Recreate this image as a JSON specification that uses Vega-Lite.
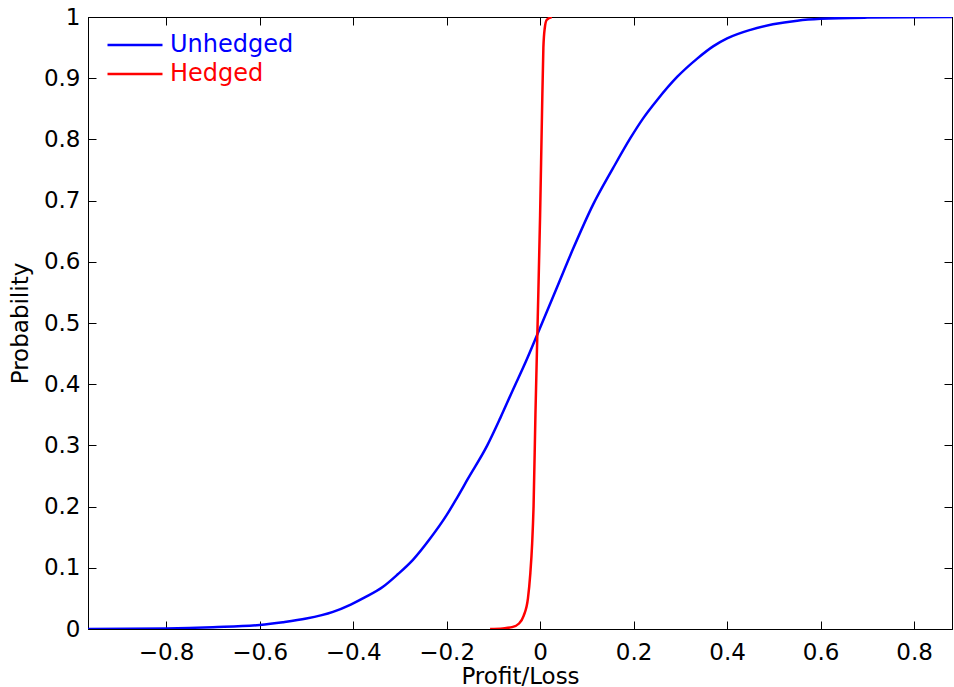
{
  "$schema": "https://vega.github.io/schema/vega-lite/v6.json",
  "autosize": {"type": "none"},
  "padding": {"left": 88, "top": 17, "right": 2, "bottom": 58},
  "width": 864,
  "height": 612,
  "background": "white",
  "config": {
    "font": "DejaVu Sans",
    "view": {"stroke": "black", "strokeWidth": 1},
    "axis": {
      "domainColor": "black",
      "tickColor": "black",
      "labelColor": "black",
      "titleColor": "black",
      "labelFont": "DejaVu Sans",
      "titleFont": "DejaVu Sans",
      "labelFontSize": 23,
      "titleFontSize": 23,
      "titleFontWeight": "normal",
      "grid": false,
      "tickSize": -8,
      "labelFlush": false,
      "labelOverlap": false
    }
  },
  "data": {"values": [
    {"series": "Unhedged", "x": -0.967, "y": 0.0},
    {"series": "Unhedged", "x": -0.8, "y": 0.001},
    {"series": "Unhedged", "x": -0.7, "y": 0.003},
    {"series": "Unhedged", "x": -0.6, "y": 0.0065},
    {"series": "Unhedged", "x": -0.55, "y": 0.011},
    {"series": "Unhedged", "x": -0.5, "y": 0.017},
    {"series": "Unhedged", "x": -0.443, "y": 0.028},
    {"series": "Unhedged", "x": -0.405, "y": 0.04},
    {"series": "Unhedged", "x": -0.374, "y": 0.052},
    {"series": "Unhedged", "x": -0.336, "y": 0.069},
    {"series": "Unhedged", "x": -0.305, "y": 0.089},
    {"series": "Unhedged", "x": -0.272, "y": 0.113},
    {"series": "Unhedged", "x": -0.236, "y": 0.147},
    {"series": "Unhedged", "x": -0.2, "y": 0.186},
    {"series": "Unhedged", "x": -0.178, "y": 0.214},
    {"series": "Unhedged", "x": -0.154, "y": 0.246},
    {"series": "Unhedged", "x": -0.113, "y": 0.3},
    {"series": "Unhedged", "x": -0.085, "y": 0.345},
    {"series": "Unhedged", "x": -0.058, "y": 0.391},
    {"series": "Unhedged", "x": -0.03, "y": 0.438},
    {"series": "Unhedged", "x": -0.004, "y": 0.485},
    {"series": "Unhedged", "x": 0.036, "y": 0.558},
    {"series": "Unhedged", "x": 0.071, "y": 0.622},
    {"series": "Unhedged", "x": 0.113, "y": 0.693},
    {"series": "Unhedged", "x": 0.156, "y": 0.753},
    {"series": "Unhedged", "x": 0.193, "y": 0.802},
    {"series": "Unhedged", "x": 0.22, "y": 0.834},
    {"series": "Unhedged", "x": 0.25, "y": 0.864},
    {"series": "Unhedged", "x": 0.293, "y": 0.902},
    {"series": "Unhedged", "x": 0.336, "y": 0.932},
    {"series": "Unhedged", "x": 0.37, "y": 0.952},
    {"series": "Unhedged", "x": 0.4, "y": 0.965},
    {"series": "Unhedged", "x": 0.45, "y": 0.979},
    {"series": "Unhedged", "x": 0.498, "y": 0.988},
    {"series": "Unhedged", "x": 0.55, "y": 0.994},
    {"series": "Unhedged", "x": 0.6, "y": 0.997},
    {"series": "Unhedged", "x": 0.7, "y": 0.999},
    {"series": "Unhedged", "x": 0.881, "y": 1.0},
    {"series": "Hedged", "x": -0.107, "y": 0.0},
    {"series": "Hedged", "x": -0.08, "y": 0.001},
    {"series": "Hedged", "x": -0.06, "y": 0.003},
    {"series": "Hedged", "x": -0.045, "y": 0.009},
    {"series": "Hedged", "x": -0.035, "y": 0.022},
    {"series": "Hedged", "x": -0.026, "y": 0.05},
    {"series": "Hedged", "x": -0.021, "y": 0.09},
    {"series": "Hedged", "x": -0.017, "y": 0.14},
    {"series": "Hedged", "x": -0.014, "y": 0.2},
    {"series": "Hedged", "x": -0.01, "y": 0.35},
    {"series": "Hedged", "x": -0.005, "y": 0.51},
    {"series": "Hedged", "x": 0.0, "y": 0.676},
    {"series": "Hedged", "x": 0.004, "y": 0.84},
    {"series": "Hedged", "x": 0.007, "y": 0.95},
    {"series": "Hedged", "x": 0.01, "y": 0.982},
    {"series": "Hedged", "x": 0.014, "y": 0.995},
    {"series": "Hedged", "x": 0.025, "y": 1.0}
  ]},
  "resolve": {"axis": {"x": "independent", "y": "independent"}},
  "layer": [
    {
      "mark": {"type": "line", "strokeWidth": 2.5, "clip": true, "interpolate": "monotone"},
      "encoding": {
        "x": {"field": "x", "type": "quantitative",
          "scale": {"domain": [-0.967, 0.881], "nice": false, "zero": false},
          "axis": {"orient": "bottom", "title": "Profit/Loss", "values": [-0.8, -0.6, -0.4, -0.2, 0, 0.2, 0.4, 0.6, 0.8], "format": "~g", "labelPadding": 20, "titlePadding": 1}},
        "y": {"field": "y", "type": "quantitative",
          "scale": {"domain": [0, 1], "nice": false},
          "axis": {"orient": "left", "title": "Probability", "values": [0, 0.1, 0.2, 0.3, 0.4, 0.5, 0.6, 0.7, 0.8, 0.9, 1], "format": "~g", "labelPadding": 16, "titlePadding": 11}},
        "color": {"field": "series", "type": "nominal",
          "scale": {"domain": ["Unhedged", "Hedged"], "range": ["#0000ff", "#ff0000"]},
          "legend": {
            "orient": "none", "legendX": 32, "legendY": 13, "padding": 0, "title": null,
            "symbolType": "M-2,0H2", "symbolSize": 756, "symbolStrokeWidth": 2.5,
            "labelFontSize": 24, "labelFont": "DejaVu Sans", "labelOffset": 20, "rowPadding": 2,
            "encode": {"labels": {"update": {"fill": {"signal": "datum.value === 'Unhedged' ? '#0000ff' : '#ff0000'"}}}}
          }
        },
        "order": {"field": "x", "type": "quantitative"}
      }
    },
    {
      "mark": {"type": "point", "opacity": 0},
      "encoding": {
        "x": {"field": "x", "type": "quantitative",
          "axis": {"orient": "top", "title": null, "labels": false, "values": [-0.8, -0.6, -0.4, -0.2, 0, 0.2, 0.4, 0.6, 0.8]}},
        "y": {"field": "y", "type": "quantitative",
          "axis": {"orient": "right", "title": null, "labels": false, "values": [0, 0.1, 0.2, 0.3, 0.4, 0.5, 0.6, 0.7, 0.8, 0.9, 1]}}
      }
    }
  ]
}
